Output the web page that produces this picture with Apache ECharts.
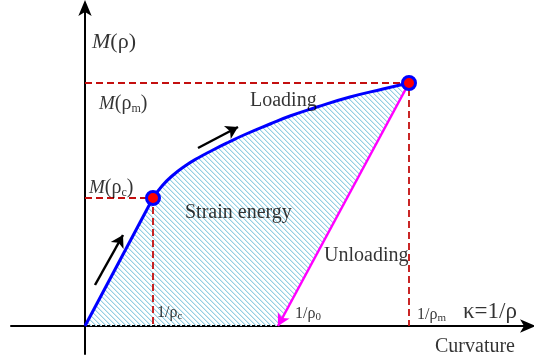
<!DOCTYPE html>
<html>
<head>
<meta charset="utf-8">
<script src="https://cdn.jsdelivr.net/npm/echarts@6/dist/echarts.min.js"></script>
<style>
  html, body { margin: 0; padding: 0; background: #fff; }
  #chart { width: 534px; height: 360px; }
</style>
</head>
<body>
<div id="chart"></div>
<script>
// Moment–curvature diagram: elastic branch, plastic loading curve, elastic unloading.
const origin = [0, 0];
const criticalPoint = [0.68, 1.28];   // (1/ρc, M(ρc))
const maxPoint = [3.24, 2.43];        // (1/ρm, M(ρm))
const residualCurvature = 1.93;       // 1/ρ0

// Loading curve beyond the critical point
const loadingCurve = [
  [0.68, 1.28], [0.77, 1.40], [0.87, 1.50], [1.00, 1.60], [1.13, 1.68],
  [1.27, 1.755], [1.43, 1.835], [1.60, 1.915], [1.85, 2.02], [2.05, 2.10],
  [2.32, 2.19], [2.65, 2.29], [2.98, 2.37], [3.24, 2.43]
];

// Direction arrows along the loading path
const loadingArrows = [
  [[0.10, 0.41], [0.38, 0.91]],
  [[1.13, 1.78], [1.53, 1.99]]
];

// Text annotations: [x, y, rich formatter]
const annotations = [
  [0.07, 2.84, '{mi|M}{b|(ρ)}'],
  [0.14, 2.22, '{m|M}{t|(ρ}{s|m}{t|)}'],
  [1.65, 2.25, '{t|Loading}'],
  [0.04, 1.38, '{m|M}{t|(ρ}{s|c}{t|)}'],
  [1.00, 1.13, '{t|Strain energy}'],
  [2.39, 0.70, '{t|Unloading}'],
  [0.72, 0.13, '{n|1/ρ}{ss|c}'],
  [2.10, 0.12, '{n|1/ρ}{ss|0}'],
  [3.32, 0.11, '{n|1/ρ}{ss|m}'],
  [3.78, 0.14, '{k|κ=1/ρ}'],
  [3.50, -0.21, '{t|Curvature}']
];

const serif = '"Liberation Serif", "Times New Roman", serif';
const rich = {
  mi: { fontFamily: serif, fontStyle: 'italic', fontSize: 22, lineHeight: 24, color: '#000' },
  b:  { fontFamily: serif, fontSize: 22, lineHeight: 24, color: '#000' },
  k:  { fontFamily: serif, fontSize: 23, lineHeight: 24, color: '#000' },
  m:  { fontFamily: serif, fontStyle: 'italic', fontSize: 19, lineHeight: 22, color: '#000' },
  t:  { fontFamily: serif, fontSize: 20, lineHeight: 22, color: '#000' },
  s:  { fontFamily: serif, fontSize: 12, lineHeight: 12, verticalAlign: 'bottom', color: '#000' },
  n:  { fontFamily: serif, fontSize: 16, lineHeight: 18, color: '#000' },
  ss: { fontFamily: serif, fontSize: 11, lineHeight: 10, verticalAlign: 'bottom', color: '#000' }
};

// Diagonal hatch used for the strain-energy area
function makeHatch() {
  const size = 5;
  const c = document.createElement('canvas');
  c.width = size; c.height = size;
  const g = c.getContext('2d');
  for (let i = 0; i < size; i++) {
    g.fillStyle = '#95cfe3';
    g.fillRect(i, i, 1, 1);
    g.fillStyle = '#d2ebf4';
    g.fillRect((i + 1) % size, i, 1, 1);
  }
  return c;
}
const hatch = makeHatch();

const areaPolygon = [origin].concat(loadingCurve).concat([[residualCurvature, 0]]);

const red = '#c40f0f';
const dashed = { color: red, width: 1.8, type: [7, 4] };

const chart = echarts.init(document.getElementById('chart'), null, { renderer: 'canvas' });

chart.setOption({
  animation: false,
  backgroundColor: '#fff',
  grid: { left: 11, right: 4, top: 6, bottom: 6 },
  xAxis: {
    type: 'value', min: -0.74, max: 4.45,
    axisLine: { onZero: true, symbol: ['none', 'arrow'], symbolSize: [10, 16], symbolOffset: [0, 6],
                lineStyle: { color: '#000', width: 2 } },
    axisTick: { show: false }, axisLabel: { show: false }, splitLine: { show: false }
  },
  yAxis: {
    type: 'value', min: -0.28, max: 3.2,
    axisLine: { onZero: true, symbol: ['none', 'arrow'], symbolSize: [10, 16], symbolOffset: [0, 6],
                lineStyle: { color: '#000', width: 2 } },
    axisTick: { show: false }, axisLabel: { show: false }, splitLine: { show: false }
  },
  series: [
    {
      type: 'custom',
      z: 1,
      renderItem: function (params, api) {
        const pts = areaPolygon.map(p => api.coord(p));
        return { type: 'polygon', shape: { points: pts }, style: { fill: { image: hatch, repeat: 'repeat' } } };
      },
      data: [0]
    },
    {
      type: 'line', z: 3, symbol: 'none',
      data: [[0, maxPoint[1]], maxPoint, [maxPoint[0], 0]],
      lineStyle: dashed
    },
    {
      type: 'line', z: 3, symbol: 'none',
      data: [[0, criticalPoint[1]], criticalPoint, [criticalPoint[0], 0]],
      lineStyle: dashed
    },
    {
      type: 'line', z: 4, symbol: 'none',
      data: [origin, criticalPoint],
      lineStyle: { color: '#0000ff', width: 3 }
    },
    {
      type: 'line', z: 4, symbol: 'none', smooth: 0.5,
      data: loadingCurve,
      lineStyle: { color: '#0000ff', width: 3 }
    },
    {
      type: 'line', z: 4, symbol: 'none', data: [],
      markLine: {
        silent: true, symbol: ['none', 'arrow'], symbolSize: [10, 12], label: { show: false },
        lineStyle: { color: '#ff00ff', width: 2.5, type: 'solid' },
        data: [[{ coord: maxPoint }, { coord: [residualCurvature, 0] }]]
      }
    },
    {
      type: 'line', z: 4, symbol: 'none', data: [],
      markLine: {
        silent: true, symbol: ['none', 'arrow'], symbolSize: [11, 12], label: { show: false },
        lineStyle: { color: '#000', width: 2.5, type: 'solid' },
        data: loadingArrows.map(a => [{ coord: a[0] }, { coord: a[1] }])
      }
    },
    {
      type: 'scatter', z: 6,
      symbolSize: 13,
      itemStyle: { color: '#ff0000', borderColor: '#0000ff', borderWidth: 3, opacity: 1 },
      data: [criticalPoint, maxPoint]
    },
    {
      type: 'scatter', z: 7, symbolSize: 0,
      data: annotations.map(a => ({ value: [a[0], a[1]], text: a[2] })),
      label: {
        show: true, position: [0, 0], align: 'left', verticalAlign: 'middle',
        formatter: p => p.data.text, rich: rich
      }
    }
  ]
});
</script>
</body>
</html>
